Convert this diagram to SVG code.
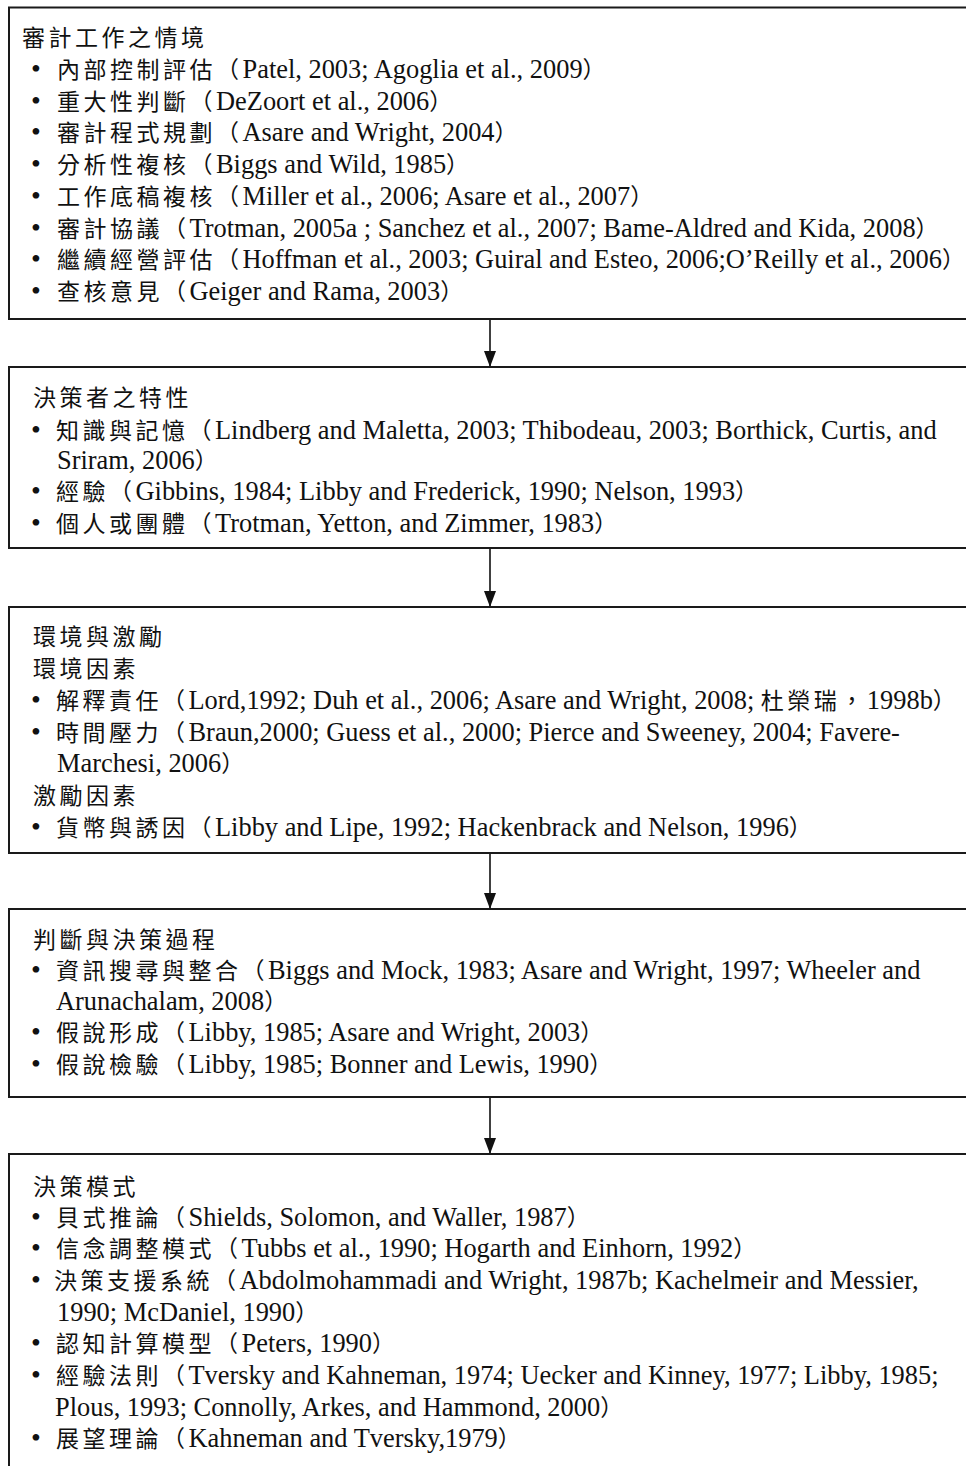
<svg xmlns="http://www.w3.org/2000/svg" width="966" height="1466" viewBox="0 0 966 1466">
<style>
.box{fill:#fff;stroke:#1a1a1a;stroke-width:2}
.c{font-family:"Noto Sans CJK TC","Noto Sans CJK SC",sans-serif;font-size:23px;letter-spacing:3.5px;fill:#111}
.l{font-family:"Liberation Serif","Noto Sans CJK TC",serif;font-size:26.4px;letter-spacing:0;fill:#111}
.b{font-family:"Liberation Serif",serif;font-size:28px;fill:#111}
.arr{stroke:#111;stroke-width:1.6;fill:none}
</style>
<defs>
<marker id="ah" markerUnits="userSpaceOnUse" markerWidth="16" markerHeight="12" refX="16" refY="6" orient="auto">
<path d="M0,0 L16,6 L0,12 z" fill="#111"/>
</marker>
</defs>
<rect width="966" height="1466" fill="#fff"/>

<g id="connectors">
<line class="arr" x1="490" y1="319" x2="490" y2="367" marker-end="url(#ah)"/>
<line class="arr" x1="490" y1="548" x2="490" y2="607" marker-end="url(#ah)"/>
<line class="arr" x1="490" y1="853" x2="490" y2="909" marker-end="url(#ah)"/>
<line class="arr" x1="490" y1="1097" x2="490" y2="1154" marker-end="url(#ah)"/>
</g>

<g id="node1">
<rect class="box" x="9" y="7.5" width="990" height="311.5"/>
<text x="22" y="46" class="c">審計工作之情境</text>
<text y="78"><tspan x="31" class="b">•</tspan><tspan x="57" class="c">內部控制評估（</tspan><tspan class="l">Patel, 2003; Agoglia et al., 2009</tspan><tspan class="c">）</tspan></text>
<text y="110"><tspan x="31" class="b">•</tspan><tspan x="57" class="c">重大性判斷（</tspan><tspan class="l">DeZoort et al., 2006</tspan><tspan class="c">）</tspan></text>
<text y="141"><tspan x="31" class="b">•</tspan><tspan x="57" class="c">審計程式規劃（</tspan><tspan class="l">Asare and Wright, 2004</tspan><tspan class="c">）</tspan></text>
<text y="173"><tspan x="31" class="b">•</tspan><tspan x="57" class="c">分析性複核（</tspan><tspan class="l">Biggs and Wild, 1985</tspan><tspan class="c">）</tspan></text>
<text y="205"><tspan x="31" class="b">•</tspan><tspan x="57" class="c">工作底稿複核（</tspan><tspan class="l">Miller et al., 2006; Asare et al., 2007</tspan><tspan class="c">）</tspan></text>
<text y="237"><tspan x="31" class="b">•</tspan><tspan x="57" class="c">審計協議（</tspan><tspan class="l">Trotman, 2005a ; Sanchez et al., 2007; Bame-Aldred and Kida, 2008</tspan><tspan class="c">）</tspan></text>
<text y="268"><tspan x="31" class="b">•</tspan><tspan x="57" class="c">繼續經營評估（</tspan><tspan class="l">Hoffman et al., 2003; Guiral and Esteo, 2006;O’Reilly et al., 2006</tspan><tspan class="c">）</tspan></text>
<text y="300"><tspan x="31" class="b">•</tspan><tspan x="57" class="c">查核意見（</tspan><tspan class="l">Geiger and Rama, 2003</tspan><tspan class="c">）</tspan></text>
</g>

<g id="node2">
<rect class="box" x="9" y="367" width="990" height="181"/>
<text x="33" y="406" class="c">決策者之特性</text>
<text y="439"><tspan x="31" class="b">•</tspan><tspan x="56" class="c">知識與記憶（</tspan><tspan class="l">Lindberg and Maletta, 2003; Thibodeau, 2003; Borthick, Curtis, and</tspan></text>
<text y="469"><tspan x="57" class="l">Sriram, 2006</tspan><tspan class="c">）</tspan></text>
<text y="500"><tspan x="31" class="b">•</tspan><tspan x="56" class="c">經驗（</tspan><tspan class="l">Gibbins, 1984; Libby and Frederick, 1990; Nelson, 1993</tspan><tspan class="c">）</tspan></text>
<text y="532"><tspan x="31" class="b">•</tspan><tspan x="56" class="c">個人或團體（</tspan><tspan class="l">Trotman, Yetton, and Zimmer, 1983</tspan><tspan class="c">）</tspan></text>
</g>

<g id="node3">
<rect class="box" x="9" y="607" width="990" height="246"/>
<text x="33" y="645" class="c">環境與激勵</text>
<text x="33" y="677" class="c">環境因素</text>
<text y="709"><tspan x="31" class="b">•</tspan><tspan x="56" class="c">解釋責任（</tspan><tspan class="l">Lord,1992; Duh et al., 2006; Asare and Wright, 2008; </tspan><tspan class="c">杜榮瑞，</tspan><tspan class="l">1998b</tspan><tspan class="c">）</tspan></text>
<text y="741"><tspan x="31" class="b">•</tspan><tspan x="56" class="c">時間壓力（</tspan><tspan class="l">Braun,2000; Guess et al., 2000; Pierce and Sweeney, 2004; Favere-</tspan></text>
<text y="772"><tspan x="57" class="l">Marchesi, 2006</tspan><tspan class="c">）</tspan></text>
<text x="33" y="804" class="c">激勵因素</text>
<text y="836"><tspan x="31" class="b">•</tspan><tspan x="56" class="c">貨幣與誘因（</tspan><tspan class="l">Libby and Lipe, 1992; Hackenbrack and Nelson, 1996</tspan><tspan class="c">）</tspan></text>
</g>

<g id="node4">
<rect class="box" x="9" y="909" width="990" height="188"/>
<text x="33" y="948" class="c">判斷與決策過程</text>
<text y="979"><tspan x="31" class="b">•</tspan><tspan x="56" class="c">資訊搜尋與整合（</tspan><tspan class="l">Biggs and Mock, 1983; Asare and Wright, 1997; Wheeler and</tspan></text>
<text y="1010"><tspan x="56" class="l">Arunachalam, 2008</tspan><tspan class="c">）</tspan></text>
<text y="1041"><tspan x="31" class="b">•</tspan><tspan x="56" class="c">假說形成（</tspan><tspan class="l">Libby, 1985; Asare and Wright, 2003</tspan><tspan class="c">）</tspan></text>
<text y="1073"><tspan x="31" class="b">•</tspan><tspan x="56" class="c">假說檢驗（</tspan><tspan class="l">Libby, 1985; Bonner and Lewis, 1990</tspan><tspan class="c">）</tspan></text>
</g>

<g id="node5">
<rect class="box" x="9" y="1154" width="990" height="340"/>
<text x="33" y="1195" class="c">決策模式</text>
<text y="1226"><tspan x="31" class="b">•</tspan><tspan x="56" class="c">貝式推論（</tspan><tspan class="l">Shields, Solomon, and Waller, 1987</tspan><tspan class="c">）</tspan></text>
<text y="1257"><tspan x="31" class="b">•</tspan><tspan x="56" class="c">信念調整模式（</tspan><tspan class="l">Tubbs et al., 1990; Hogarth and Einhorn, 1992</tspan><tspan class="c">）</tspan></text>
<text y="1289"><tspan x="31" class="b">•</tspan><tspan x="54" class="c">決策支援系統（</tspan><tspan class="l">Abdolmohammadi and Wright, 1987b; Kachelmeir and Messier,</tspan></text>
<text y="1321"><tspan x="57" class="l">1990; McDaniel, 1990</tspan><tspan class="c">）</tspan></text>
<text y="1352"><tspan x="31" class="b">•</tspan><tspan x="56" class="c">認知計算模型（</tspan><tspan class="l">Peters, 1990</tspan><tspan class="c">）</tspan></text>
<text y="1384"><tspan x="31" class="b">•</tspan><tspan x="56" class="c">經驗法則（</tspan><tspan class="l">Tversky and Kahneman, 1974; Uecker and Kinney, 1977; Libby, 1985;</tspan></text>
<text y="1416"><tspan x="55" class="l">Plous, 1993; Connolly, Arkes, and Hammond, 2000</tspan><tspan class="c">）</tspan></text>
<text y="1447"><tspan x="31" class="b">•</tspan><tspan x="56" class="c">展望理論（</tspan><tspan class="l">Kahneman and Tversky,1979</tspan><tspan class="c">）</tspan></text>
</g>
</svg>
